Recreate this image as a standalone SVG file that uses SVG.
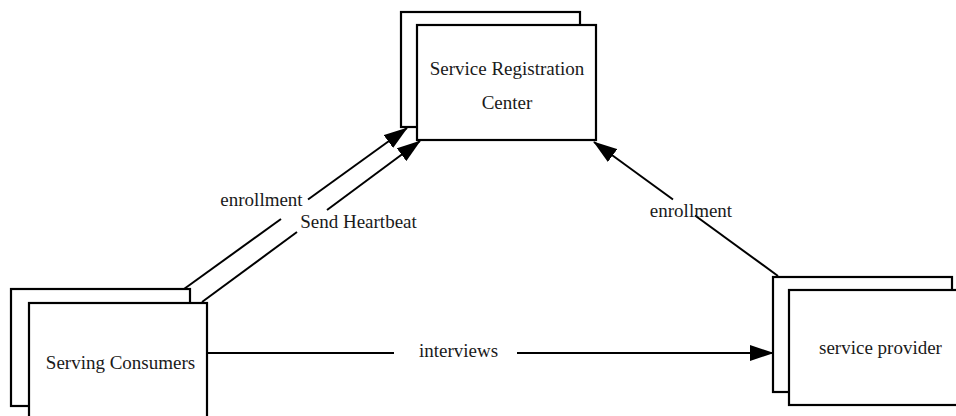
<svg xmlns="http://www.w3.org/2000/svg" width="956" height="416" viewBox="0 0 956 416">
  <style>
    .box { fill: #ffffff; stroke: #000000; stroke-width: 2.2; }
    .lbl { font-family: "Liberation Serif", "Times New Roman", serif; font-size: 19px; fill: #1a1a1a; text-anchor: middle; }
    .edge { fill: none; stroke: #000000; stroke-width: 2; }
  </style>
  <defs>
    <marker id="arrow" markerUnits="userSpaceOnUse" viewBox="0 0 24 16" markerWidth="24" markerHeight="16" refX="23" refY="8" orient="auto">
      <path d="M0,0 L24,8 L0,16 z" fill="#000000"/>
    </marker>
  </defs>
  <rect width="956" height="416" fill="#ffffff"/>

  <!-- connectors -->
  <g id="connectors">
    <!-- consumer -> registry: enrollment -->
    <path class="edge" d="M184,289 L281,219"/>
    <path class="edge" d="M308,199.5 L407,128" marker-end="url(#arrow)"/>
    <!-- consumer -> registry: heartbeat -->
    <path class="edge" d="M202,302 L297,232"/>
    <path class="edge" d="M327,210 L420,141" marker-end="url(#arrow)"/>
    <!-- provider -> registry: enrollment -->
    <path class="edge" d="M778,276 L695,215.5"/>
    <path class="edge" d="M673,199.5 L594,142" marker-end="url(#arrow)"/>
    <!-- consumer -> provider: interviews -->
    <path class="edge" d="M207,353 L394,353"/>
    <path class="edge" d="M517,353 L773,353" marker-end="url(#arrow)"/>
    <text class="lbl" x="261.5" y="206">enrollment</text>
    <text class="lbl" x="358.5" y="228">Send Heartbeat</text>
    <text class="lbl" x="691" y="217">enrollment</text>
    <text class="lbl" x="458.5" y="357">interviews</text>
  </g>

  <!-- registration center -->
  <g id="registry">
    <rect class="box" x="401" y="12" width="179" height="115"/>
    <rect class="box" x="417" y="25" width="179" height="115"/>
    <text class="lbl" x="507" y="75">Service Registration</text>
    <text class="lbl" x="507" y="109">Center</text>
  </g>

  <!-- consumer -->
  <g id="consumer">
    <rect class="box" x="11" y="289" width="179" height="117"/>
    <rect class="box" x="29" y="303" width="178" height="117"/>
    <text class="lbl" x="120.5" y="369">Serving Consumers</text>
  </g>

  <!-- provider -->
  <g id="provider">
    <rect class="box" x="773" y="277" width="179" height="115"/>
    <rect class="box" x="789" y="290" width="179" height="115"/>
    <text class="lbl" x="880.5" y="354">service provider</text>
  </g>
</svg>
